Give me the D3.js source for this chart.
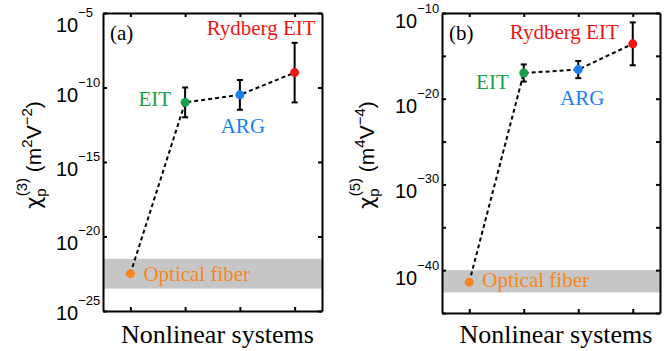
<!DOCTYPE html>
<html>
<head>
<meta charset="utf-8">
<script src="https://cdn.jsdelivr.net/npm/d3@7"></script>
<style>
  body { margin: 0; background: #fff; }
  svg { display: block; }
  .serif { font-family: "Liberation Serif", "Times New Roman", serif; }
  .sans { font-family: "Liberation Sans", Arial, sans-serif; }
  .domain, .tick line { stroke: #000; stroke-width: 2; }
</style>
</head>
<body>
<div id="chart"></div>
<script>
// Categories on the x axis
const systems = ['Optical fiber', 'EIT', 'ARG', 'Rydberg EIT'];
const systemColors = ['#f7861c', '#16a04a', '#1a80f0', '#f01414'];

// Panel (a): third-order susceptibility
const chi3Values = [3.2e-23, 1e-11, 3.2e-11, 1e-9];
const chi3Lower = [null, 1e-12, 3.2e-12, 1e-11];
const chi3Upper = [null, 1e-10, 3.2e-10, 1e-7];
const chi3Band = [3.2e-24, 3.2e-22];
const chi3Ticks = [1e-25, 1e-20, 1e-15, 1e-10, 1e-5];
const chi3TickLabels = ['−25', '−20', '−15', '−10', '−5'];

// Panel (b): fifth-order susceptibility
const chi5Values = [4e-42, 1e-17, 2.5e-17, 2.5e-14];
const chi5Lower = [null, 1e-18, 2.5e-18, 8e-17];
const chi5Upper = [null, 1e-16, 2.5e-16, 8e-12];
const chi5Band = [2.5e-43, 1e-40];
const chi5Ticks = [1e-45, 1e-40, 1e-35, 1e-30, 1e-25, 1e-20, 1e-15, 1e-10];
const chi5LabelTicks = [1e-40, 1e-30, 1e-20, 1e-10];
const chi5TickLabels = ['−40', '−30', '−20', '−10'];

const svg = d3.select('#chart').append('svg')
    .attr('width', 664)
    .attr('height', 351);

function drawPanel(cfg) {
  const x = d3.scaleLinear().domain([0.5, 4.5]).range([cfg.left, cfg.right]);
  const y = d3.scaleLog().domain(cfg.domain).range([cfg.bottom, cfg.top]);
  const idx = [1, 2, 3, 4];

  const g = svg.append('g');

  // grey band for optical fiber range
  g.append('rect')
      .attr('x', cfg.left)
      .attr('width', cfg.right - cfg.left)
      .attr('y', y(cfg.band[1]))
      .attr('height', y(cfg.band[0]) - y(cfg.band[1]))
      .attr('fill', '#c6c6c6');

  // axes, ticks pointing inwards
  g.append('g').attr('transform', `translate(${cfg.left},0)`)
      .call(d3.axisLeft(y).tickValues(cfg.ticks).tickSize(-4).tickSizeOuter(0).tickFormat(''));
  g.append('g').attr('transform', `translate(${cfg.right},0)`)
      .call(d3.axisRight(y).tickValues(cfg.ticks).tickSize(-4).tickSizeOuter(0).tickFormat(''));
  g.append('g').attr('transform', `translate(0,${cfg.bottom})`)
      .call(d3.axisBottom(x).tickValues(idx).tickSize(-4).tickSizeOuter(0).tickFormat(''));
  g.append('g').attr('transform', `translate(0,${cfg.top})`)
      .call(d3.axisTop(x).tickValues(idx).tickSize(-4).tickSizeOuter(0).tickFormat(''));

  // y tick labels "10^n"
  cfg.labelTicks.forEach((t, i) => {
    const txt = g.append('text')
        .attr('class', 'sans')
        .attr('x', cfg.left - 47)
        .attr('y', y(t) + cfg.labelDy[i])
        .attr('font-size', 20);
    txt.append('tspan').text('10');
    txt.append('tspan').attr('dy', -15).attr('font-size', 13).text(cfg.tickLabels[i]);
  });

  // dashed connecting line
  const line = d3.line().x((d, i) => x(i + 1)).y(d => y(d));
  g.append('path')
      .datum(cfg.values)
      .attr('d', line)
      .attr('fill', 'none')
      .attr('stroke', '#000')
      .attr('stroke-width', 2)
      .attr('stroke-dasharray', '4,3');

  // error bars
  cfg.values.forEach((v, i) => {
    if (cfg.lower[i] == null) return;
    const cx = x(i + 1);
    const eg = g.append('g').attr('stroke', '#000').attr('stroke-width', 2);
    eg.append('line').attr('x1', cx).attr('x2', cx).attr('y1', y(cfg.lower[i])).attr('y2', y(cfg.upper[i]));
    eg.append('line').attr('x1', cx - 3).attr('x2', cx + 3).attr('y1', y(cfg.lower[i])).attr('y2', y(cfg.lower[i]));
    eg.append('line').attr('x1', cx - 3).attr('x2', cx + 3).attr('y1', y(cfg.upper[i])).attr('y2', y(cfg.upper[i]));
  });

  // markers
  g.selectAll('circle.pt')
      .data(cfg.values)
      .join('circle')
      .attr('class', 'pt')
      .attr('cx', (d, i) => x(i + 1))
      .attr('cy', d => y(d))
      .attr('r', 4.5)
      .attr('fill', (d, i) => systemColors[i]);

  // point labels
  cfg.values.forEach((v, i) => {
    const o = cfg.labelOffsets[i];
    g.append('text')
        .attr('class', 'serif')
        .attr('x', x(i + 1) + o[0])
        .attr('y', y(v) + o[1])
        .attr('text-anchor', o[2])
        .attr('font-size', 21)
        .attr('fill', systemColors[i])
        .text(systems[i]);
  });

  // panel letter
  g.append('text')
      .attr('class', 'serif')
      .attr('x', cfg.left + 7)
      .attr('y', cfg.top + 27)
      .attr('font-size', 21)
      .text(cfg.letter);

  // x axis label
  g.append('text')
      .attr('class', 'serif')
      .attr('x', (cfg.left + cfg.right) / 2 + 5)
      .attr('y', 343)
      .attr('text-anchor', 'middle')
      .attr('font-size', 26)
      .text('Nonlinear systems');

  // y axis label
  const yl = g.append('text')
      .attr('class', 'sans')
      .attr('transform', `translate(${cfg.titleX},155) rotate(-90)`)
      .attr('text-anchor', 'middle')
      .attr('font-size', 21);
  yl.append('tspan').attr('font-family', '"DejaVu Sans", sans-serif').text('χ');
  yl.append('tspan').attr('dy', 5).attr('font-size', 15).text('p');
  yl.append('tspan').attr('dx', -8).attr('dy', -19).attr('font-size', 15).text(cfg.order);
  yl.append('tspan').attr('dy', 14).text(' (m');
  yl.append('tspan').attr('dy', -9).attr('font-size', 15).text(cfg.power);
  yl.append('tspan').attr('dy', 9).text('V');
  yl.append('tspan').attr('dy', -9).attr('font-size', 15).text('−' + cfg.power);
  yl.append('tspan').attr('dy', 9).text(')');
}

drawPanel({
  left: 103, right: 322, top: 13, bottom: 311,
  domain: [1e-25, 1e-5],
  values: chi3Values, lower: chi3Lower, upper: chi3Upper, band: chi3Band,
  ticks: chi3Ticks, labelTicks: chi3Ticks, tickLabels: chi3TickLabels,
  labelDy: [9, 13, 14, 14, 19],
  labelOffsets: [[13, 7, 'start'], [-14, 4, 'end'], [3, 38, 'middle'], [21, -38, 'end']],
  letter: '(a)', order: '(3)', power: '2', titleX: 41
});

drawPanel({
  left: 442, right: 660, top: 13, bottom: 313,
  domain: [1e-45, 1e-10],
  values: chi5Values, lower: chi5Lower, upper: chi5Upper, band: chi5Band,
  ticks: chi5Ticks, labelTicks: chi5LabelTicks, tickLabels: chi5TickLabels,
  labelDy: [15, 14, 14, 15],
  labelOffsets: [[13, 5, 'start'], [-15, 16, 'end'], [4, 35, 'middle'], [-14, -5, 'end']],
  letter: '(b)', order: '(5)', power: '4', titleX: 374
});
</script>
</body>
</html>
